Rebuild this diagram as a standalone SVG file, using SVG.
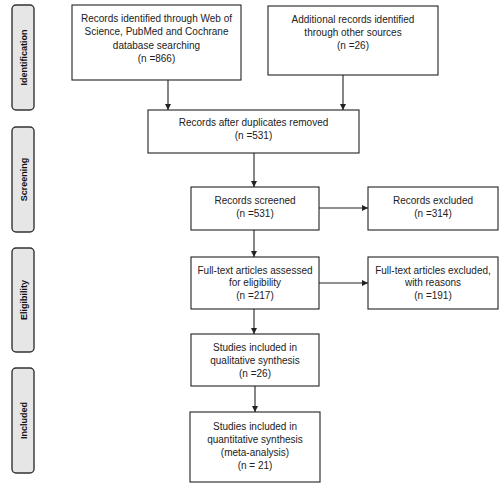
<svg xmlns="http://www.w3.org/2000/svg" width="500" height="491" viewBox="0 0 500 491">
<style>
.box{fill:#fff;stroke:#222;stroke-width:1.1}
.phase{fill:#e6e6e6;stroke:#333;stroke-width:1.4}
.t{font-family:"Liberation Sans",Arial,sans-serif;font-size:10px;fill:#222;text-anchor:middle}
.p{font-family:"Liberation Sans",Arial,sans-serif;font-size:9px;font-weight:bold;fill:#111;text-anchor:middle}
.c{stroke:#222;stroke-width:1.1;fill:none;marker-end:url(#ah)}
</style>
<defs>
<marker id="ah" markerWidth="8" markerHeight="8" refX="6" refY="3" orient="auto" markerUnits="userSpaceOnUse">
<path d="M0,0 L6,3 L0,6 Z" fill="#222"/>
</marker>
</defs>
<rect width="500" height="491" fill="#fff"/>
<g id="phase-identification"><rect class="phase" x="12" y="5" width="22" height="105" rx="4"/><text class="p" transform="translate(26.5,57.5) rotate(-90)">Identification</text></g>
<g id="phase-screening"><rect class="phase" x="12" y="127" width="22" height="105" rx="4"/><text class="p" transform="translate(26.5,179.5) rotate(-90)">Screening</text></g>
<g id="phase-eligibility"><rect class="phase" x="12" y="248" width="22" height="104" rx="4"/><text class="p" transform="translate(26.5,300) rotate(-90)">Eligibility</text></g>
<g id="phase-included"><rect class="phase" x="12" y="368" width="22" height="105" rx="4"/><text class="p" transform="translate(26.5,420.5) rotate(-90)">Included</text></g>
<g id="n1"><rect class="box" x="72" y="5" width="169" height="75"/>
<text class="t" x="156.5" y="22">Records identified through Web of</text>
<text class="t" x="156.5" y="35">Science, PubMed and Cochrane</text>
<text class="t" x="156.5" y="49">database searching</text>
<text class="t" x="156.5" y="62">(n =866)</text></g>
<g id="n2"><rect class="box" x="268" y="6" width="170" height="69"/>
<text class="t" x="353" y="23">Additional records identified</text>
<text class="t" x="353" y="36">through other sources</text>
<text class="t" x="353" y="49">(n =26)</text></g>
<g id="n3"><rect class="box" x="148" y="110" width="211" height="43"/>
<text class="t" x="253.5" y="126">Records after duplicates removed</text>
<text class="t" x="253.5" y="139">(n =531)</text></g>
<g id="n4"><rect class="box" x="191" y="187" width="128" height="43"/>
<text class="t" x="255" y="204">Records screened</text>
<text class="t" x="255" y="217">(n =531)</text></g>
<g id="n5"><rect class="box" x="368" y="187" width="130" height="43"/>
<text class="t" x="433" y="204">Records excluded</text>
<text class="t" x="433" y="217">(n =314)</text></g>
<g id="n6"><rect class="box" x="191" y="257" width="128" height="52"/>
<text class="t" x="255" y="274">Full-text articles assessed</text>
<text class="t" x="255" y="286">for eligibility</text>
<text class="t" x="255" y="299">(n =217)</text></g>
<g id="n7"><rect class="box" x="368" y="257" width="130" height="52"/>
<text class="t" x="433" y="274">Full-text articles excluded,</text>
<text class="t" x="433" y="286">with reasons</text>
<text class="t" x="433" y="299">(n =191)</text></g>
<g id="n8"><rect class="box" x="191" y="334" width="128" height="52"/>
<text class="t" x="255" y="351">Studies included in</text>
<text class="t" x="255" y="364">qualitative synthesis</text>
<text class="t" x="255" y="377">(n =26)</text></g>
<g id="n9"><rect class="box" x="190" y="412" width="130" height="70"/>
<text class="t" x="255" y="430">Studies included in</text>
<text class="t" x="255" y="443">quantitative synthesis</text>
<text class="t" x="255" y="456">(meta-analysis)</text>
<text class="t" x="255" y="469">(n = 21)</text></g>
<g id="connectors">
<line class="c" x1="168" y1="80" x2="168" y2="110"/>
<line class="c" x1="343" y1="75" x2="343" y2="110"/>
<line class="c" x1="254" y1="153" x2="254" y2="187"/>
<line class="c" x1="319" y1="208" x2="368" y2="208"/>
<line class="c" x1="254" y1="230" x2="254" y2="257"/>
<line class="c" x1="319" y1="283" x2="368" y2="283"/>
<line class="c" x1="254" y1="309" x2="254" y2="334"/>
<line class="c" x1="255" y1="386" x2="255" y2="412"/>
</g>
</svg>
